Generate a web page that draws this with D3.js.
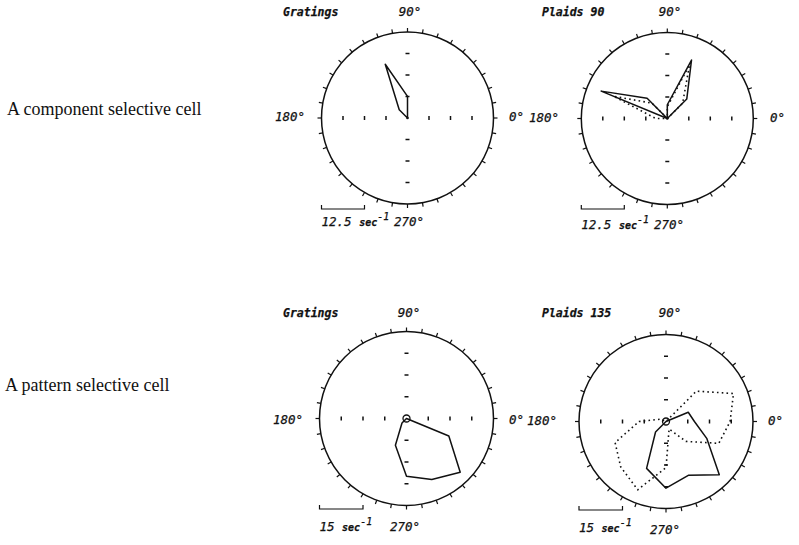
<!DOCTYPE html>
<html>
<head>
<meta charset="utf-8">
<script src="https://cdn.jsdelivr.net/npm/d3@7"></script>
<style>
  html, body { margin: 0; padding: 0; background: #fff; }
  svg { display: block; }
  .plot-text { font-family: "DejaVu Sans Mono", monospace; font-style: italic; fill: #111; stroke: #111; stroke-width: 0.25; }
  .row-label { font-family: "Liberation Serif", "Times New Roman", serif; font-size: 18px; fill: #111; }
</style>
</head>
<body>
<svg id="chart" width="799" height="545"></svg>
<script>
// ---------- DATA ----------
// Stimulus directions (degrees, 0 = rightward, counter-clockwise)
const directions = [0, 22.5, 45, 67.5, 90, 112.5, 135, 157.5, 180, 202.5, 225, 247.5, 270, 292.5, 315, 337.5];

// Component selective cell (spikes / sec)
const componentGratings  = [0, 0, 0, 0, 6.3, 16.9, 3.4, 0, 0, 0, 0, 0, 0, 0, 0, 0];
const componentPlaids90  = [0, 0, 8.0, 18.4, 4.0, 0, 8.3, 20.8, 0, 0, 0, 0, 0, 0, 0, 0];
const componentPredicted = [0, 0, 6.3, 16.9, 3.4, 0, 6.3, 16.9, 3.4, 0, 0, 0, 0, 0, 0, 0];

// Pattern selective cell (spikes / sec)
const patternGratings    = [0, 0, 0, 0, 0, 0, 0, 0, 0, 0, 2.2, 10.0, 19.9, 22.8, 26.2, 15.8];
const patternPlaids135   = [9.8, 8.3, 0, 0, 0, 0, 0, 0, 0, 0, 5.1, 17.5, 23.0, 20.1, 26.0, 15.2];
const patternPredicted   = [22.1, 25.2, 14.8, 0, 0, 0, 0, 2.1, 9.3, 19.0, 22.1, 25.5, 15.9, 2.8, 9.7, 19.7];

// Radial extents, radial tick values and scale bars
const radialMax   = [25, 25, 30, 30];
const radialTicks = [[6.25, 12.5, 18.75], [6.25, 12.5, 18.75], [7.5, 15, 22.5], [7.5, 15, 22.5]];
const scaleBars   = [12.5, 12.5, 15, 15];
const scaleLabels = ["12.5", "12.5", "15", "15"];
const titles      = ["Gratings", "Plaids 90", "Gratings", "Plaids 135"];
const rowLabels   = ["A component selective cell", "A pattern selective cell"];
const angleLabels = ["90°", "180°", "0°", "270°"];

// ---------- LAYOUT ----------
const layout = [
  { cx: 407.5, cy: 118,   R: 86, titleX: 283, titleY: 16,  topY: 16,  topX: 410, sideY: 121, leftEnd: 305, rightStart: 509, barY: 209, textY: 226, botX: 409, botY: 226 },
  { cx: 667.3, cy: 118.5, R: 86, titleX: 542, titleY: 16,  topY: 16,  topX: 670, sideY: 122, leftEnd: 559, rightStart: 770, barY: 209, textY: 229, botX: 669, botY: 229 },
  { cx: 406.5, cy: 418.5, R: 87, titleX: 283, titleY: 317, topY: 317, topX: 409, sideY: 424, leftEnd: 303, rightStart: 509, barY: 509, textY: 531, botX: 405, botY: 531 },
  { cx: 666,   cy: 421.5, R: 87, titleX: 542, titleY: 317, topY: 317, topX: 670, sideY: 425, leftEnd: 557, rightStart: 768, barY: 510, textY: 532, botX: 665, botY: 534 }
];

const panelSeries = [
  [{ values: componentGratings, dotted: false }],
  [{ values: componentPredicted, dotted: true }, { values: componentPlaids90, dotted: false }],
  [{ values: patternGratings, dotted: false }],
  [{ values: patternPredicted, dotted: true }, { values: patternPlaids135, dotted: false }]
];
const centerCircle = [false, false, true, true];

const ink = "#111";
const svg = d3.select("#chart");

// Row labels
svg.append("text").attr("class", "row-label").attr("x", 7).attr("y", 115).text(rowLabels[0]);
svg.append("text").attr("class", "row-label").attr("x", 5).attr("y", 391).text(rowLabels[1]);

const toRad = d => (90 - d) * Math.PI / 180;   // d3.lineRadial angle: clockwise from 12 o'clock

layout.forEach((L, p) => {
  const g = svg.append("g").attr("transform", `translate(${L.cx},${L.cy})`);
  const r = d3.scaleLinear().domain([0, radialMax[p]]).range([0, L.R]);
  const Rout = r(radialMax[p]);

  // outer circle
  g.append("circle").attr("r", Rout).attr("fill", "none")
    .attr("stroke", ink).attr("stroke-width", 1.5);

  // outer ticks every 10 degrees
  const outer = d3.range(0, 360, 10);
  g.selectAll(".otick").data(outer).join("line")
    .attr("x1", d => Rout * Math.cos(d * Math.PI / 180))
    .attr("y1", d => -Rout * Math.sin(d * Math.PI / 180))
    .attr("x2", d => (Rout + 4) * Math.cos(d * Math.PI / 180))
    .attr("y2", d => -(Rout + 4) * Math.sin(d * Math.PI / 180))
    .attr("stroke", ink).attr("stroke-width", 1.2);

  // radial ticks along the 4 main axes
  const rt = radialTicks[p];
  [0, 90, 180, 270].forEach(a => {
    const c = Math.cos(a * Math.PI / 180), s = Math.sin(a * Math.PI / 180);
    g.selectAll(null).data(rt).join("line")
      .attr("x1", v => r(v) * c - 2 * s)
      .attr("y1", v => -r(v) * s - 2 * c)
      .attr("x2", v => r(v) * c + 2 * s)
      .attr("y2", v => -r(v) * s + 2 * c)
      .attr("stroke", ink).attr("stroke-width", 1.5);
  });

  // data polygons
  const line = d3.lineRadial()
    .angle(d => toRad(d[0]))
    .radius(d => r(d[1]))
    .curve(d3.curveLinearClosed);
  panelSeries[p].forEach(sr => {
    const pts = directions.map((d, i) => [d, sr.values[i]]);
    g.append("path").attr("d", line(pts)).attr("fill", "none")
      .attr("stroke", ink).attr("stroke-width", sr.dotted ? 1.6 : 1.5)
      .attr("stroke-linejoin", "round")
      .attr("stroke-dasharray", sr.dotted ? "1.6,3.2" : null);
  });
  if (centerCircle[p]) {
    g.append("circle").attr("r", 3.5).attr("fill", "none").attr("stroke", ink).attr("stroke-width", 1.3);
  } else {
    g.append("circle").attr("r", 1.3).attr("fill", ink);
  }

  // labels
  svg.append("text").attr("class", "plot-text").attr("x", L.titleX).attr("y", L.titleY)
    .attr("font-size", 11.5).attr("font-weight", "bold").text(titles[p]);
  svg.append("text").attr("class", "plot-text").attr("x", L.topX).attr("y", L.topY)
    .attr("text-anchor", "middle").attr("font-size", 12.5).text(angleLabels[0]);
  svg.append("text").attr("class", "plot-text").attr("x", L.leftEnd).attr("y", L.sideY)
    .attr("text-anchor", "end").attr("font-size", 12.5).text(angleLabels[1]);
  svg.append("text").attr("class", "plot-text").attr("x", L.rightStart).attr("y", L.sideY)
    .attr("font-size", 12.5).text(angleLabels[2]);
  svg.append("text").attr("class", "plot-text").attr("x", L.botX).attr("y", L.botY)
    .attr("text-anchor", "middle").attr("font-size", 12.5).text(angleLabels[3]);

  // scale bar
  const bx0 = L.cx - L.R, bx1 = bx0 + r(scaleBars[p]);
  svg.append("path")
    .attr("d", `M${bx0},${L.barY - 4}V${L.barY}H${bx1}V${L.barY - 4}`)
    .attr("fill", "none").attr("stroke", ink).attr("stroke-width", 1.2);
  const t = svg.append("text").attr("class", "plot-text").attr("x", bx0).attr("y", L.textY).attr("font-size", 12.5);
  t.append("tspan").text(scaleLabels[p] + " ");
  t.append("tspan").attr("font-size", 10).attr("font-weight", "bold").text("sec");
  t.append("tspan").attr("dy", -6).attr("font-size", 10).text("-1");
});
</script>
</body>
</html>
